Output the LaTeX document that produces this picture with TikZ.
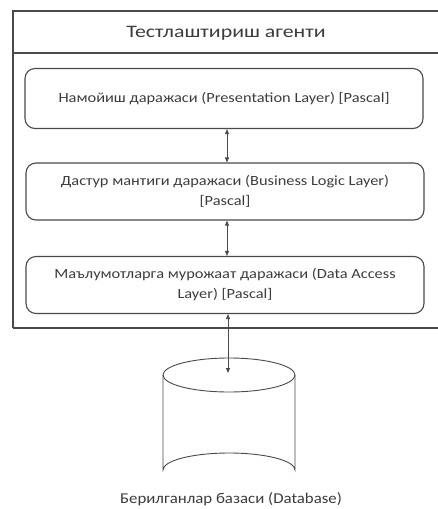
\documentclass[tikz,border=0pt]{standalone}
\usepackage{fontspec}
\setmainfont{Carlito}
\newfontfamily\bodyf[FakeStretch=1.17]{Carlito}
\newfontfamily\titlef[FakeStretch=1.25]{Carlito}
\newfontfamily\labf[FakeStretch=1.12]{Carlito}
\usetikzlibrary{arrows.meta}
\definecolor{ln}{HTML}{4A4A4A}
\definecolor{tx}{HTML}{3C3C3C}
\begin{document}
\begin{tikzpicture}[x=1pt,y=-1pt,
  layer/.style={draw=ln,line width=1.1pt,rounded corners=10pt,minimum width=398pt,align=center,inner sep=0pt,text=tx,font=\bodyf\fontsize{14}{20}\selectfont},
  link/.style={draw=ln,line width=0.8pt,{Triangle[length=5pt,width=4pt]}-{Triangle[length=5pt,width=4pt]}}]
\useasboundingbox (0,0) rectangle (437,509);
% outer frame
\draw[ln,line width=1.3pt] (13,328) -- (13,11) -- (440,11);
\draw[ln,line width=1.3pt] (13,53) -- (440,53);
\draw[ln,line width=1.3pt] (13,328) -- (440,328);
\node[text=tx,font=\titlef\fontsize{17.5}{21}\selectfont] (title) at (226,33) {Тестлаштириш агенти};
% layers
\node[layer,minimum height=60pt] (pres) at (224,98.5) {Намойиш даражаси (Presentation Layer) [Pascal]};
\node[layer,minimum height=57pt] (bus) at (225,191.5) {Дастур мантиги даражаси (Business Logic Layer)\\{}[Pascal]};
\node[layer,minimum height=57pt] (dal) at (225,285) {Маълумотларга мурожаат даражаси (Data Access\\Layer) [Pascal]};
% database
\coordinate (dbtop) at (228,373);
\draw[ln,line width=0.9pt,fill=white] (163,375) -- (163,470) arc[start angle=180,end angle=360,x radius=66,y radius=17] -- (295,375);
\draw[ln,line width=0.9pt] (229,375) ellipse[x radius=66,y radius=17];
\node[text=tx,font=\labf\fontsize{15}{18}\selectfont] (dblabel) at (231,499) {Берилганлар базаси (Database)};
% connectors
\draw[link] (pres.south -| 227,0) -- (bus.north -| 227,0);
\draw[link] (bus.south -| 227,0) -- (dal.north -| 227,0);
\draw[link] (dal.south -| 228,0) -- (dbtop);
\end{tikzpicture}
\end{document}
